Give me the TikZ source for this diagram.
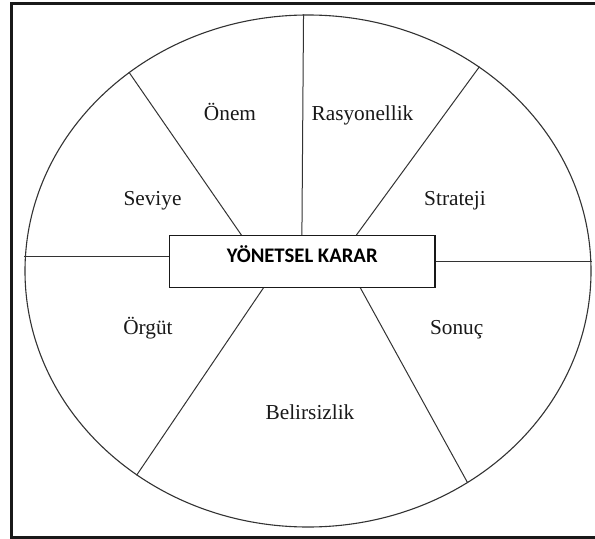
\documentclass[tikz,border=0pt]{standalone}
\usepackage{fontspec}
\setmainfont{Liberation Serif}
\newfontfamily\boxfont{Carlito}
\usetikzlibrary{calc,shapes.geometric}

\tikzset{
  frameline/.style={line width=3bp, draw=black!90},
  rimline/.style={draw=black!80, line width=1.1bp},
  spoke/.style={draw=black!80, line width=1bp},
  centerbox/.style={draw=black!90, line width=1.3bp, fill=white, inner sep=0pt,
    minimum width=265.7bp, minimum height=51.6bp,
    text height=14bp, text depth=12.4bp,
    font=\boxfont\bfseries\fontsize{20.7bp}{24bp}\selectfont},
  sector/.style={anchor=base, inner sep=0pt, text=black!90,
    font=\fontsize{21.3bp}{25bp}\selectfont},
}

\begin{document}
\begin{tikzpicture}[x=1bp, y=-1bp]
  \useasboundingbox (0,0) rectangle (595,539);
  \fill[white] (0,0) rectangle (595,539);

  % outer frame (its right side lies past the page edge)
  \draw[frameline] (598,4) -- (11,4) -- (11,537) -- (598,537);

  % the wheel
  \node[ellipse, rimline, inner sep=0pt, minimum width=566bp, minimum height=512bp] (rim) at (308,271) {};

  % hub
  \node[centerbox] (box) at (302.2,261.5) {YÖNETSEL KARAR};

  % start of the left horizontal spoke, a little above the hub's middle
  \coordinate (hubleft) at ($(box.west)+(0,-5.5)$);

  % spokes from the hub to the rim
  \draw[spoke] ($(box.north west)+(133.2,0)$) -- (rim.91.8);
  \draw[spoke] ($(box.north west)+(72.7,0)$) -- (rim.132.1);
  \draw[spoke] ($(box.north west)+(187.7,0)$) -- (rim.50.2);
  \draw[spoke] (hubleft) -- (hubleft -| rim.west);
  \draw[spoke] (box.east) -- (box.east -| rim.east);
  \draw[spoke] ($(box.south west)+(94.7,0)$) -- (rim.230.3);
  \draw[spoke] ($(box.south west)+(191.7,0)$) -- (rim.307.4);

  % sector labels
  \node[sector] (onem) at (230,120.7) {Önem};
  \node[sector] (rasyonellik) at (362.5,120.7) {Rasyonellik};
  \node[sector] (seviye) at (152.5,206) {Seviye};
  \node[sector] (strateji) at (455,206) {Strateji};
  \node[sector] (orgut) at (148,334) {Örgüt};
  \node[sector] (sonuc) at (456.7,334) {Sonuç};
  \node[sector] (belirsizlik) at (310,419.3) {Belirsizlik};
\end{tikzpicture}
\end{document}
